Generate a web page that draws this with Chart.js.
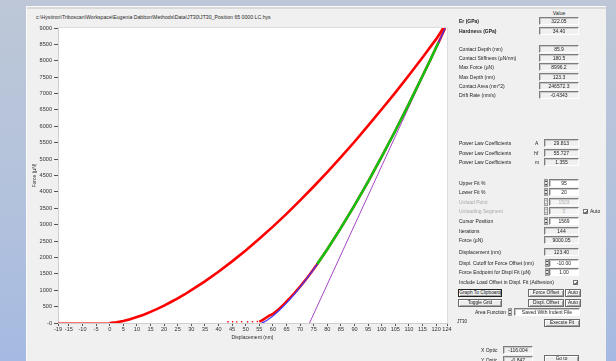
<!DOCTYPE html>
<html>
<head>
<meta charset="utf-8">
<script src="https://cdn.jsdelivr.net/npm/chart.js@4.4.1/dist/chart.umd.min.js"></script>
<style>
  html, body { margin: 0; padding: 0; }
  body {
    width: 616px; height: 361px; overflow: hidden; position: relative;
    background: linear-gradient(180deg, #bdc7d7 0%, #b3c2dc 55%, #a5bae2 100%);
    font-family: "Liberation Sans", Arial, sans-serif;
  }
  #win { position: absolute; left: 26px; top: 6px; width: 580px; height: 355px; background: #f0f0f0; }
  #winEdge { position: absolute; left: 26px; top: 6px; width: 580px; height: 1px; background: #fbfbfb; }
  #winBand { position: absolute; left: 26px; top: 7px; width: 580px; height: 2px; background: #d9d9d9; }
  #winLeft { position: absolute; left: 26px; top: 6px; width: 1px; height: 355px; background: #fafafa; }
  #chartWrap { position: absolute; left: 26px; top: 6px; width: 440px; height: 355px; }
  .t { position: absolute; font-size: 5px; line-height: 6px; color: #1c1c1c; white-space: nowrap; }
  .b { font-weight: bold; }
  .g { color: #a9a9a9; }
  .path { font-size: 5.2px; color: #2a2a2a; }
  .box {
    position: absolute; height: 8px; font-size: 5px; line-height: 7px; text-align: center; color: #1c1c1c;
    background: #f0f0f0; box-sizing: border-box;
    border-top: 1px solid #7d7d7d; border-left: 1px solid #7d7d7d;
    border-bottom: 1px solid #ffffff; border-right: 1px solid #ffffff;
    box-shadow: inset 1px 1px 0 #c8c8c8;
  }
  .w { background: #ffffff; }
  .gb { color: #b0b0b0; background: #f4f4f4; }
  .spin { position: absolute; width: 4px; height: 8px; box-sizing: border-box; background: #e6e6e6; border: 1px solid #9a9a9a; }
  .spin::before, .spin::after { content: ""; position: absolute; left: 0; width: 0; height: 0;
    border-left: 1px solid transparent; border-right: 1px solid transparent; }
  .spin::before { top: 0; border-bottom: 2px solid #222; }
  .spin::after { bottom: 0; border-top: 2px solid #222; }
  .spin.dis::before { border-bottom-color: #aaa; }
  .spin.dis::after { border-top-color: #aaa; }
  .btn {
    position: absolute; height: 8px; font-size: 4.8px; line-height: 6px; text-align: center; color: #1c1c1c;
    background: #ededed; box-sizing: border-box; border: 1px solid #6b6b6b;
    box-shadow: inset 1px 1px 0 #ffffff, inset -1px -1px 0 #a8a8a8;
  }
  .btn.focus { border-color: #202020; }
  .chk { position: absolute; width: 5px; height: 5px; box-sizing: border-box; border: 1px solid #777; background: #fff; }
  .chk svg { position: absolute; left: 0; top: 0; }
</style>
</head>
<body>
<div id="win"></div>
<div id="winEdge"></div>
<div id="winBand"></div>
<div id="winLeft"></div>

<div class="t path" style="left:36px;top:14px">c:\Hysitron\Triboscan\Workspace\Eugenia Dabbon\Methods\Data\JT30\JT30_Position 65 0000 LC.hys</div>

<div id="chartWrap"><canvas id="chart" width="440" height="355"></canvas></div>

<!-- results panel -->
<div class="t" style="left:549px;top:10px;width:20px;text-align:center">Value</div>

<div class="t b" style="left:459px;top:18px">Er (GPa)</div>
<div class="box" style="left:539px;top:17px;width:40px">322.05</div>
<div class="t b" style="left:459px;top:28px">Hardness (GPa)</div>
<div class="box" style="left:539px;top:27px;width:40px">34.40</div>

<div class="t" style="left:459px;top:46px">Contact Depth (nm)</div>
<div class="box" style="left:539px;top:45px;width:40px">85.9</div>
<div class="t" style="left:459px;top:55px">Contact Stiffness (µN/nm)</div>
<div class="box" style="left:539px;top:54px;width:40px">180.5</div>
<div class="t" style="left:459px;top:64px">Max Force (µN)</div>
<div class="box" style="left:539px;top:63px;width:40px">8996.2</div>
<div class="t" style="left:459px;top:74px">Max Depth (nm)</div>
<div class="box" style="left:539px;top:73px;width:40px">123.3</div>
<div class="t" style="left:459px;top:83px">Contact Area (nm^2)</div>
<div class="box" style="left:539px;top:82px;width:40px">246572.3</div>
<div class="t" style="left:459px;top:92px">Drift Rate (nm/s)</div>
<div class="box" style="left:539px;top:91px;width:40px">-0.4343</div>

<div class="t" style="left:459px;top:140px">Power Law Coefficients</div>
<div class="t" style="left:535px;top:140px">A</div>
<div class="box" style="left:544px;top:139px;width:35px">29.813</div>
<div class="t" style="left:459px;top:150px">Power Law Coefficients</div>
<div class="t" style="left:534px;top:150px">hf</div>
<div class="box" style="left:544px;top:149px;width:35px">55.727</div>
<div class="t" style="left:459px;top:159px">Power Law Coefficients</div>
<div class="t" style="left:535px;top:159px">m</div>
<div class="box" style="left:544px;top:158px;width:35px">1.355</div>

<div class="t" style="left:459px;top:180px">Upper Fit %</div>
<div class="spin" style="left:544px;top:179px"></div>
<div class="box w" style="left:549px;top:179px;width:30px">95</div>
<div class="t" style="left:459px;top:189px">Lower Fit %</div>
<div class="spin" style="left:544px;top:188px"></div>
<div class="box w" style="left:549px;top:188px;width:30px">20</div>
<div class="t g" style="left:459px;top:199px">Unload Point</div>
<div class="spin dis" style="left:544px;top:198px"></div>
<div class="box gb" style="left:549px;top:198px;width:30px">1503</div>
<div class="t g" style="left:459px;top:208px">Unloading Segment</div>
<div class="spin dis" style="left:544px;top:207px"></div>
<div class="box gb" style="left:549px;top:207px;width:30px">5</div>
<div class="chk" style="left:583px;top:209px"><svg width="4" height="4" viewBox="0 0 4 4"><polyline points="0.5,2 1.6,3.2 3.5,0.6" fill="none" stroke="#111" stroke-width="0.9"/></svg></div>
<div class="t" style="left:590px;top:208px">Auto</div>
<div class="t" style="left:459px;top:218px">Cursor Position</div>
<div class="spin" style="left:544px;top:217px"></div>
<div class="box w" style="left:549px;top:217px;width:30px">1569</div>
<div class="t" style="left:459px;top:228px">Iterations</div>
<div class="box" style="left:544px;top:227px;width:35px">144</div>
<div class="t" style="left:459px;top:237px">Force (µN)</div>
<div class="box" style="left:544px;top:236px;width:35px">9000.05</div>
<div class="t" style="left:459px;top:249px">Displacement (nm)</div>
<div class="box" style="left:544px;top:248px;width:35px">123.40</div>

<div class="t" style="left:459px;top:260px">Displ. Cutoff for Force Offset (nm)</div>
<div class="spin" style="left:545px;top:259px"></div>
<div class="box w" style="left:549px;top:259px;width:30px">-10.00</div>
<div class="t" style="left:459px;top:269px">Force Endpoint for Displ Fit (µN)</div>
<div class="spin" style="left:545px;top:268px"></div>
<div class="box w" style="left:549px;top:268px;width:30px">1.00</div>
<div class="t" style="left:459px;top:279px">Include Load Offset in Displ. Fit (Adhesion)</div>
<div class="chk" style="left:573px;top:280px"><svg width="4" height="4" viewBox="0 0 4 4"><polyline points="0.5,2 1.6,3.2 3.5,0.6" fill="none" stroke="#111" stroke-width="0.9"/></svg></div>

<div class="btn focus" style="left:458px;top:289px;width:44px">Graph To Clipboard</div>
<div class="btn" style="left:528px;top:289px;width:36px">Force Offset</div>
<div class="btn" style="left:565px;top:289px;width:16px">Auto</div>
<div class="btn" style="left:458px;top:299px;width:44px">Toggle Grid</div>
<div class="btn" style="left:528px;top:299px;width:36px">Displ. Offset</div>
<div class="btn" style="left:565px;top:299px;width:16px">Auto</div>

<div class="t" style="left:475px;top:309px">Area Function</div>
<div class="spin" style="left:508px;top:308px"></div>
<div class="box w" style="left:514px;top:308px;width:66px">Saved With Indent File</div>
<div class="t" style="left:457px;top:319px;font-size:4.5px">JT30</div>
<div class="btn" style="left:544px;top:319px;width:36px">Execute Fit</div>

<div class="t" style="left:481px;top:347px">X Optic</div>
<div class="box" style="left:503px;top:346px;width:30px">-116.004</div>
<div class="t" style="left:481px;top:357px">Y Optic</div>
<div class="box" style="left:503px;top:356px;width:30px">-0.847</div>
<div class="btn" style="left:544px;top:355px;width:35px">Go to</div>

<script>
// Axis ticks
const xTickValues = [-19, -15, -10, -5, 0, 5, 10, 15, 20, 25, 30, 35, 40, 45, 50, 55, 60, 65, 70, 75, 80, 85, 90, 95, 100, 105, 110, 115, 120, 124];
const yTickValues = [0, 500, 1000, 1500, 2000, 2500, 3000, 3500, 4000, 4500, 5000, 5500, 6000, 6500, 7000, 7500, 8000, 8500, 9000];
const yTickLabels = ['-0', '500', '1000', '1500', '2000', '2500', '3000', '3500', '4000', '4500', '5000', '5500', '6000', '6500', '7000', '7500', '8000', '8500', '9000'];

// Approach segment before contact (nm, µN)
const approachDepth = [-19, -10, 0];
const approachForce = [0, 0, 0];

// Loading segment (nm, µN)
const loadDepth = [0, 2.5, 5, 7.5, 10, 12.5, 15, 17.5, 20, 22.5, 25, 27.5, 30, 35, 40, 45, 50, 55, 60, 65, 70, 75, 80, 85, 90, 95, 100, 105, 110, 115, 120, 121.5, 122.6, 123.3];
const loadForce = [0, 20, 60, 115, 180, 250, 340, 430, 530, 640, 750, 870, 1000, 1270, 1565, 1880, 2215, 2570, 2940, 3330, 3740, 4165, 4605, 5060, 5530, 6020, 6520, 7030, 7560, 8100, 8660, 8850, 8996, 8996];

// Unloading segment (nm, µN)
const unloadDepth = [55.0, 55.8, 56.6, 57.5, 58.5, 60, 62, 64, 66, 68, 70, 72, 74, 76, 80, 85, 90, 95, 100, 105, 110, 115, 118, 120, 121.5, 122.5, 123.3];
const unloadForce = [45, 75, 110, 160, 215, 275, 410, 570, 740, 920, 1110, 1315, 1530, 1760, 2250, 2900, 3590, 4315, 5075, 5865, 6685, 7535, 8050, 8405, 8665, 8845, 8996];

// Residual points after full unload (nm, µN)
const tailDepth = [43.5, 45.2, 46.7, 48.5, 50.7, 52.5, 54.3];
const tailForce = [40, 40, 35, 40, 35, 40, 45];

// Points inside the fit window (20 % – 95 % of max force)
const fitRangeDepth = [76.3, 80, 85, 90, 95, 100, 105, 110, 115, 118, 120, 120.9];
const fitRangeForce = [1800, 2250, 2900, 3590, 4315, 5075, 5865, 6685, 7535, 8050, 8405, 8560];

// Power-law fit of the unloading curve (nm, µN)
const powerFitDepth = [55.73, 56, 57, 58, 60, 62, 64, 66, 68, 70, 72, 74, 76, 80, 85, 90, 95, 100, 105, 110, 115, 120, 123.3];
const powerFitForce = [0, 5, 41, 91, 213, 359, 522, 700, 891, 1093, 1306, 1528, 1759, 2245, 2894, 3583, 4311, 5069, 5859, 6680, 7528, 8399, 8988];

// Contact stiffness tangent at max load
const maxDepth = 123.3;
const maxForce = 8996.2;
const stiffness = 180.5;
const tangentDepth = [maxDepth - maxForce / stiffness, maxDepth];
const tangentForce = [0, maxForce];

const pts = (xs, ys) => xs.map((x, i) => ({ x: x, y: ys[i] }));

const plotBackground = {
  id: 'plotBackground',
  beforeDraw(chart) {
    const { ctx, chartArea: a } = chart;
    ctx.save();
    ctx.fillStyle = '#ffffff';
    ctx.fillRect(a.left, a.top, a.right - a.left, a.bottom - a.top);
    ctx.strokeStyle = '#dcdcdc';
    ctx.lineWidth = 1;
    ctx.beginPath();
    ctx.moveTo(a.left, a.top - 0.5);
    ctx.lineTo(a.right + 0.5, a.top - 0.5);
    ctx.lineTo(a.right + 0.5, a.bottom);
    ctx.stroke();
    ctx.restore();
  }
};

const line = (data, color, width, extra) => Object.assign({
  data: data, showLine: true, borderColor: color, backgroundColor: color,
  borderWidth: width, pointRadius: 0, tension: 0, fill: false
}, extra || {});

const tickFont = { family: '"Liberation Sans", Arial, sans-serif', size: 5.6 };

new Chart(document.getElementById('chart'), {
  type: 'scatter',
  data: {
    datasets: [
      line(pts(fitRangeDepth, fitRangeForce), '#12c412', 2.5),
      line(pts(powerFitDepth, powerFitForce), '#3b3bff', 1.2),
      line(pts(unloadDepth, unloadForce), '#ff0000', 2.5),
      { data: pts(tailDepth, tailForce), showLine: false, pointRadius: 1, pointStyle: 'rect',
        backgroundColor: '#ff0000', borderColor: '#ff0000', borderWidth: 0 },
      line(pts(tangentDepth, tangentForce), '#a646c8', 1),
      line(pts(loadDepth, loadForce), '#ff0000', 2.6),
      line(pts(approachDepth, approachForce), 'rgba(255,70,70,0.75)', 2.2)
    ]
  },
  options: {
    responsive: false,
    animation: false,
    events: [],
    layout: { padding: { left: 0, top: 22, right: 19, bottom: 0 } },
    plugins: { legend: { display: false }, tooltip: { enabled: false } },
    scales: {
      x: {
        type: 'linear', min: -19, max: 124,
        afterBuildTicks: s => { s.ticks = xTickValues.map(v => ({ value: v })); },
        afterFit: s => { s.height = 38; },
        ticks: { autoSkip: false, maxRotation: 0, padding: 0.5, color: '#333333', font: tickFont,
                 callback: (v, i) => String(xTickValues[i]) },
        grid: { drawOnChartArea: false, drawTicks: true, tickLength: 3, tickColor: '#555555' },
        border: { display: true, color: '#cfcfcf' },
        title: { display: true, text: 'Displacement (nm)', color: '#2a2a2a',
                 font: { family: '"Liberation Sans", Arial, sans-serif', size: 5 },
                 padding: { top: 0, bottom: 20 } }
      },
      y: {
        type: 'linear', min: 0, max: 9000,
        afterBuildTicks: s => { s.ticks = yTickValues.map(v => ({ value: v })); },
        afterFit: s => { s.width = 32; },
        ticks: { autoSkip: false, padding: 2, color: '#333333', font: tickFont,
                 callback: (v, i) => yTickLabels[i] },
        grid: { drawOnChartArea: false, drawTicks: true, tickLength: 4, tickColor: '#555555' },
        border: { display: true, color: '#cfcfcf' },
        title: { display: true, text: 'Force (µN)', color: '#2a2a2a',
                 font: { family: '"Liberation Sans", Arial, sans-serif', size: 5 },
                 padding: { top: 6, bottom: 0 } }
      }
    }
  },
  plugins: [plotBackground]
});
</script>
</body>
</html>
